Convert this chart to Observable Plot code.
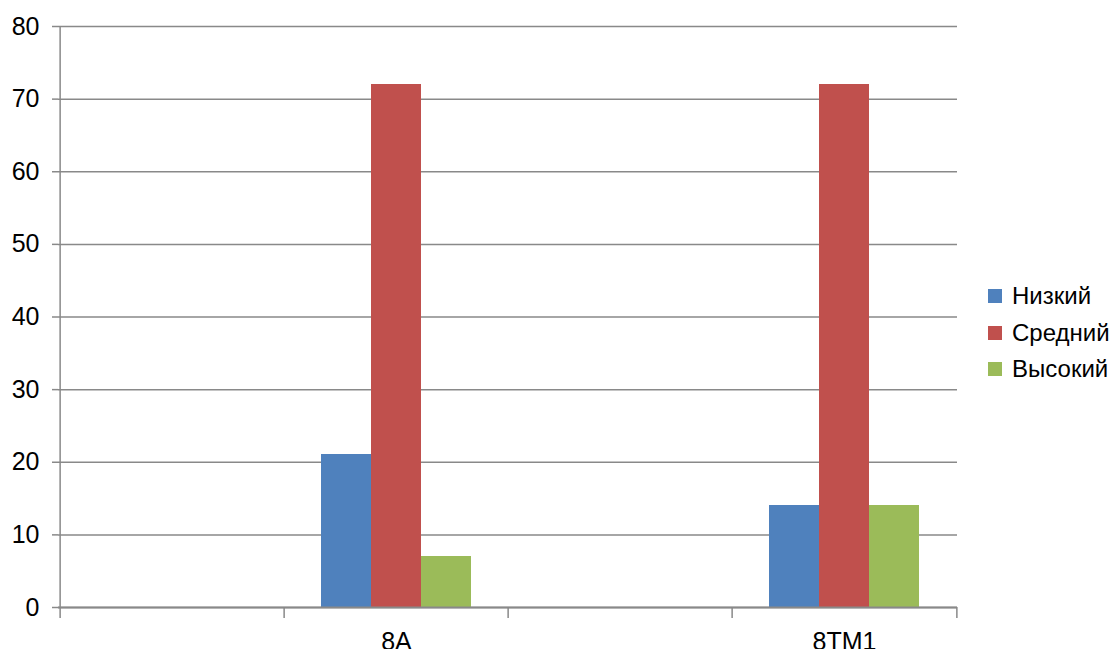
<!DOCTYPE html>
<html>
<head>
<meta charset="utf-8">
<script src="https://cdn.jsdelivr.net/npm/d3@7"></script>
<script src="https://cdn.jsdelivr.net/npm/@observablehq/plot@0.6"></script>
<style>
  html, body { margin: 0; padding: 0; background: #fff; }
  #wrap { position: relative; width: 1119px; height: 649px; overflow: hidden; font-family: "Liberation Sans", Arial, sans-serif; }
  #wrap svg text { font-family: "Liberation Sans", Arial, sans-serif; }
  #legend { position: absolute; left: 988px; top: 278px; font-size: 24px; color: #000; }
  .item { display: flex; align-items: center; height: 36.5px; }
  .sw { width: 14px; height: 14px; margin-right: 10px; }
</style>
</head>
<body>
<div id="wrap"><div id="legend"></div></div>
<script>
// Category slots (two empty slots, as in the original chart)
const slots = ["s0", "8A", "s2", "8TM1"];
const slotLabels = {s0: "", "8A": "8A", s2: "", "8TM1": "8TM1"};
const series = ["Низкий", "Средний", "Высокий"];
const colors = ["#4f81bd", "#c0504d", "#9bbb59"];
const groups = ["8A", "8TM1"];
const valuesLow = [21, 14];
const valuesMid = [72, 72];
const valuesHigh = [7, 14];
const yTicks = [0, 10, 20, 30, 40, 50, 60, 70, 80];

const seriesValues = [valuesLow, valuesMid, valuesHigh];
const data = [];
series.forEach((s, si) => groups.forEach((g, gi) => data.push({group: g, series: s, value: seriesValues[si][gi]})));

const W = 1119, H = 649;
const mL = 58, mR = 162, mT = 26, mB = 42;
const bw = (W - mL - mR) / slots.length;
const barW = 50;
const groupOff = (bw - barW * series.length) / 2;

const barMarks = series.map((s, i) => Plot.barY(data.filter(d => d.series === s), {
  x: "group", y: "value", fill: colors[i], shapeRendering: "crispEdges",
  insetLeft: groupOff + barW * i - 0.3,
  insetRight: bw - groupOff - barW * (i + 1) - 0.3
}));

const gridColor = "#898989";
const plot = Plot.plot({
  width: W, height: H,
  marginLeft: mL, marginRight: mR, marginTop: mT, marginBottom: mB,
  style: {fontFamily: "'Liberation Sans', Arial, sans-serif", fontSize: "25px", color: "#000", background: "#fff"},
  x: {type: "band", domain: slots, padding: 0, axis: null},
  y: {domain: [0, 80], axis: null},
  marks: [
    Plot.gridY(yTicks, {stroke: gridColor, strokeOpacity: 1, strokeWidth: 1.5}),
    Plot.axisY(yTicks, {tickSize: 6, tickPadding: 13, stroke: gridColor, strokeWidth: 1.5, strokeOpacity: 1, label: null, fontSize: 25}),
    ...barMarks,
    Plot.ruleX(["s0"], {dx: -bw / 2, stroke: gridColor, strokeWidth: 1.5}),
    Plot.ruleY([0], {stroke: gridColor, strokeWidth: 2}),
    Plot.axisX({tickSize: 11, dx: -bw / 2, tickFormat: () => "", stroke: gridColor, strokeWidth: 1.5, label: null}),
    Plot.axisX(["8TM1"], {tickSize: 11, dx: bw / 2, tickFormat: () => "", stroke: gridColor, strokeWidth: 1.5, label: null}),
    Plot.axisX({tickSize: 0, tickPadding: 25, tickFormat: d => slotLabels[d], label: null, fontSize: 25})
  ]
});
document.getElementById("wrap").prepend(plot);

const legend = document.getElementById("legend");
series.forEach((s, i) => {
  const it = document.createElement("div");
  it.className = "item";
  it.innerHTML = `<span class="sw" style="background:${colors[i]}"></span><span>${s}</span>`;
  legend.appendChild(it);
});
</script>
</body>
</html>
